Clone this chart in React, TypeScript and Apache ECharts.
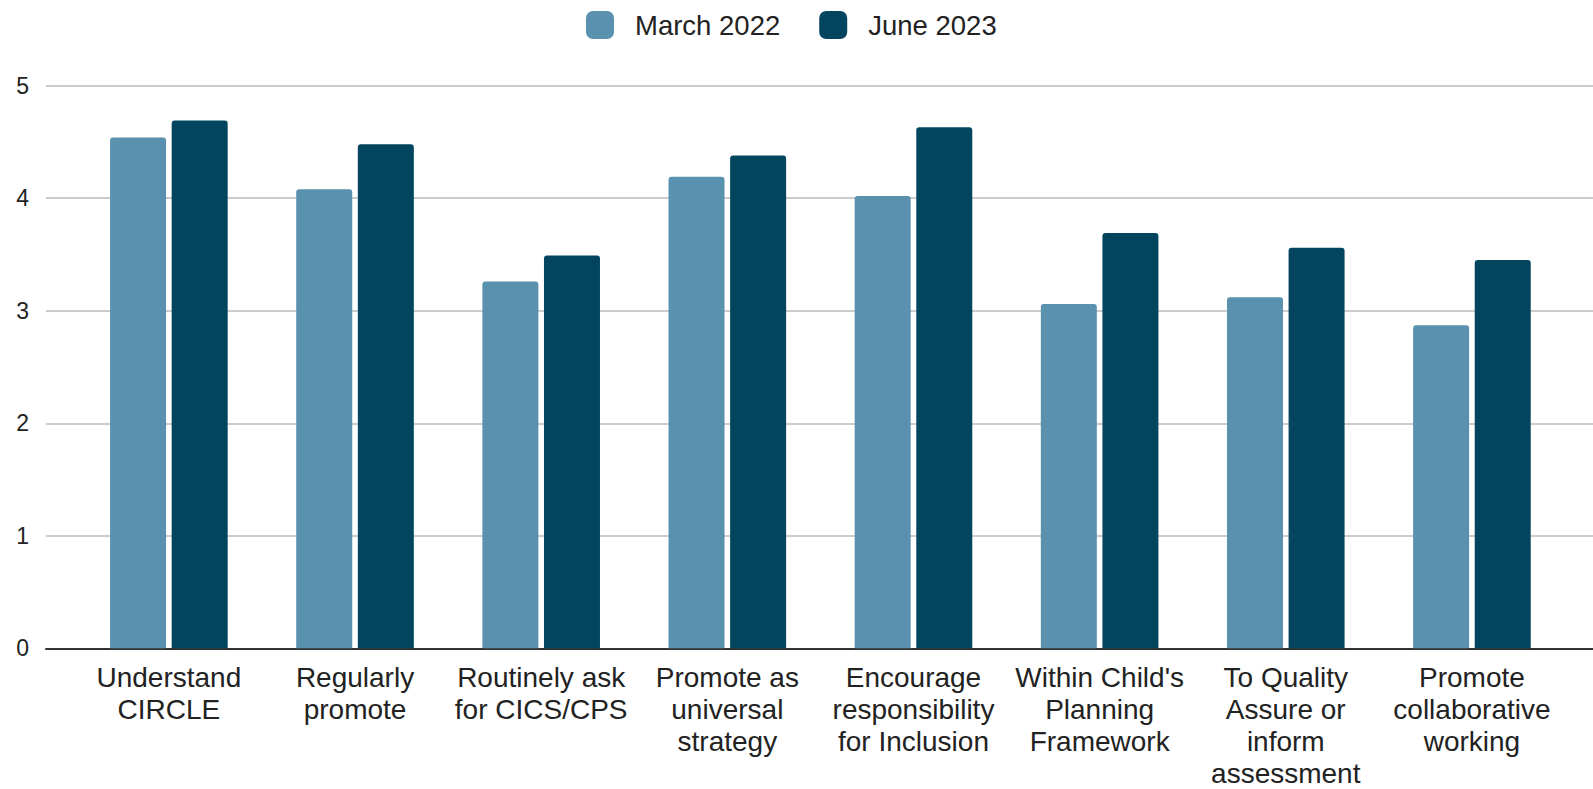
import React, { useEffect, useRef } from "react";
import * as echarts from "echarts";

const categories = [
  "Understand\nCIRCLE",
  "Regularly\npromote",
  "Routinely ask\nfor CICS/CPS",
  "Promote as\nuniversal\nstrategy",
  "Encourage\nresponsibility\nfor Inclusion",
  "Within Child's\nPlanning\nFramework",
  "To Quality\nAssure or\ninform\nassessment",
  "Promote\ncollaborative\nworking",
];
const seriesNames = ["March 2022", "June 2023"];
const march2022 = [4.54, 4.08, 3.26, 4.19, 4.02, 3.06, 3.12, 2.87];
const june2023 = [4.69, 4.48, 3.49, 4.38, 4.63, 3.69, 3.56, 3.45];
const yTicks = { min: 0, max: 5, interval: 1 };

const LIGHT = "#5a91af";
const DARK = "#03455f";
const FONT = "'Liberation Sans', Arial, sans-serif";

export default function App() {
  const ref = useRef<HTMLDivElement>(null);
  useEffect(() => {
    if (!ref.current) return;
    const chart = echarts.init(ref.current, undefined, { renderer: "svg" });
    const top = 85.7;
    const bottom = 789 - 648.3;
    chart.setOption({
      animation: false,
      backgroundColor: "#ffffff",
      textStyle: { fontFamily: FONT },
      legend: {
        left: 586,
        top: 11,
        padding: 0,
        itemWidth: 28,
        itemHeight: 28,
        itemGap: 39,
        icon: "roundRect",
        textStyle: { fontSize: 27.5, color: "#222222", fontFamily: FONT, padding: [0, 0, 0, 16] },
        data: seriesNames,
      },
      grid: [
        { left: 46, right: 0, top, bottom, containLabel: false, outerBoundsMode: "none" },
        { left: 75.8, right: 28, top, bottom, containLabel: false, outerBoundsMode: "none" },
      ],
      xAxis: [
        {
          gridIndex: 0,
          type: "value",
          min: 0,
          max: 1,
          axisLine: { show: true, lineStyle: { color: "#333333", width: 2 } },
          axisTick: { show: false },
          axisLabel: { show: false },
          splitLine: { show: false },
        },
        {
          gridIndex: 1,
          type: "category",
          data: categories,
          axisLine: { show: false },
          axisTick: { show: false },
          axisLabel: {
            margin: 13,
            fontSize: 28,
            lineHeight: 32,
            color: "#222222",
            fontFamily: FONT,
            interval: 0,
            align: "center",
          },
        },
      ],
      yAxis: [
        {
          gridIndex: 0,
          type: "value",
          min: yTicks.min,
          max: yTicks.max,
          interval: yTicks.interval,
          axisLine: { show: false },
          axisTick: { show: false },
          axisLabel: { fontSize: 23, color: "#222222", margin: 17, fontFamily: FONT },
          splitLine: { lineStyle: { color: "#cccccc", width: 2 } },
        },
        {
          gridIndex: 1,
          type: "value",
          min: yTicks.min,
          max: yTicks.max,
          interval: yTicks.interval,
          show: false,
          splitLine: { show: false },
        },
      ],
      series: [
        {
          name: seriesNames[0],
          type: "bar",
          xAxisIndex: 1,
          yAxisIndex: 1,
          data: march2022,
          barWidth: 56,
          barGap: "10%",
          itemStyle: { color: LIGHT, borderRadius: [3, 3, 0, 0] },
          z: 3,
        },
        {
          name: seriesNames[1],
          type: "bar",
          xAxisIndex: 1,
          yAxisIndex: 1,
          data: june2023,
          barWidth: 56,
          barGap: "10%",
          itemStyle: { color: DARK, borderRadius: [3, 3, 0, 0] },
          z: 3,
        },
      ],
    });
    return () => chart.dispose();
  }, []);
  return (
    <div
      ref={ref}
      style={{ position: "fixed", left: 0, top: 0, width: 1593, height: 789 }}
    />
  );
}
